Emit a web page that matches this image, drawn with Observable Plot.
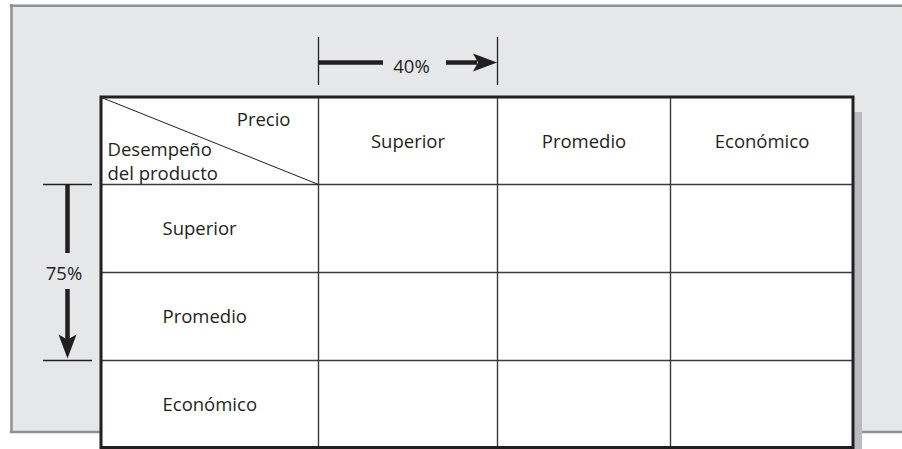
<!DOCTYPE html>
<html><head><meta charset="utf-8">
<script src="https://cdn.jsdelivr.net/npm/d3@7"></script>
<script src="https://cdn.jsdelivr.net/npm/@observablehq/plot@0.6"></script>
<style>html,body{margin:0;padding:0;background:#fff;overflow:hidden} #chart{width:902px;height:449px;overflow:hidden} #chart svg{display:block;max-width:none}</style>
</head><body><div id="chart"></div>
<script>
// ---- content ----
const priceLevels = ["Superior", "Promedio", "Económico"];          // columns (Precio)
const performanceLevels = ["Superior", "Promedio", "Económico"];    // rows (Desempeño del producto)
const priceHeader = "Precio";
const performanceHeader = ["Desempeño", "del producto"];
const priceShareLabel = "40%";
const performanceShareLabel = "75%";

// ---- layout (pixels) ----
const W = 902, H = 449;
const colEdges = [101, 318, 497, 670, 853];
const rowEdges = [97, 184, 272, 360, 447.5];
const ink = "#231f20";
const font = "Open Sans";
const fs = 18.5;
const mid = (a, b) => (a + b) / 2;

const panel = [{x1: 11, x2: W, y1: 5.3, y2: 431.5}];
const panelV = [{x: 11, y1: 4, y2: 432.75}];
const panelH = [{y: 5.3, x1: 9.75, x2: W}, {y: 431.5, x1: 9.75, x2: W}];
const shadow = [{x1: 853, x2: 862, y1: 112, y2: H}];
const table = [{x1: colEdges[0], x2: colEdges[4], y1: rowEdges[0], y2: rowEdges[4]}];
const vLines = colEdges.slice(1, -1).map(x => ({x, y1: rowEdges[0], y2: rowEdges[4]}));
const hLines = rowEdges.slice(1, -1).map(y => ({y, x1: colEdges[0], x2: colEdges[4]}));
const diagonal = [{x1: colEdges[0], y1: rowEdges[0], x2: colEdges[1], y2: rowEdges[1]}];

// dimension marker for 40% (spans first price column)
const topY = 62;
const topTicks = [colEdges[1], colEdges[2]].map(x => ({x, y1: 37, y2: 85}));
const topBars = [{x1: colEdges[1], x2: 383, y: topY}, {x1: 446, x2: colEdges[2] - 20, y: topY}];
// dimension marker for 75% (spans first two performance rows)
const leftX = 67;
const leftTicks = [rowEdges[1], rowEdges[3]].map(y => ({y, x1: 43, x2: 92}));
const leftBars = [{y1: rowEdges[1], y2: 253, x: leftX}, {y1: 289, y2: rowEdges[3] - 20, x: leftX}];
const heads = [
  {x: colEdges[2] - 0.5, y: topY, rotate: 90},
  {x: leftX, y: rowEdges[3] - 2, rotate: 180}
];
// filled arrowhead symbol, tip at origin pointing up
const arrowHead = {
  draw(ctx) {
    ctx.moveTo(0, 0);
    ctx.lineTo(9, 24);
    ctx.lineTo(0, 19);
    ctx.lineTo(-9, 24);
    ctx.closePath();
  }
};

const colHeaderText = priceLevels.map((t, i) => ({t, x: mid(colEdges[i + 1], colEdges[i + 2]), y: 141.2}));
const rowHeaderText = performanceLevels.map((t, i) => ({t, x: 162, y: mid(rowEdges[i + 1], rowEdges[i + 2]) + 1}));
const cornerRight = [{t: priceHeader, x: 290, y: 119.2}];
const cornerLeft = [
  {t: performanceHeader[0], x: 107, y: 149.8},
  {t: performanceHeader[1], x: 107, y: 174}
];
const shareText = [
  {t: priceShareLabel, x: 411, y: 66.2},
  {t: performanceShareLabel, x: 63.5, y: 273.2}
];

const txt = {fontFamily: font, fontSize: fs, fill: ink, stroke: null};

const chart = Plot.plot({
  width: W, height: H,
  margin: 0,
  x: {type: "linear", domain: [0, W], range: [0, W], axis: null},
  y: {type: "linear", domain: [0, H], range: [0, H], axis: null},
  style: {background: "#ffffff"},
  marks: [
    Plot.rect(panel, {x1: "x1", x2: "x2", y1: "y1", y2: "y2", fill: "#e6e7e8"}),
    Plot.ruleX(panelV, {x: "x", y1: "y1", y2: "y2", stroke: "#8f9194", strokeWidth: 2.5}),
    Plot.ruleY(panelH, {y: "y", x1: "x1", x2: "x2", stroke: "#8f9194", strokeWidth: 2.5}),
    Plot.rect(shadow, {x1: "x1", x2: "x2", y1: "y1", y2: "y2", fill: "#b9bbbe"}),
    Plot.rect(table, {x1: "x1", x2: "x2", y1: "y1", y2: "y2", fill: "#ffffff"}),
    Plot.ruleX(vLines, {x: "x", y1: "y1", y2: "y2", stroke: "#3a3a3a", strokeWidth: 1.4}),
    Plot.ruleY(hLines, {y: "y", x1: "x1", x2: "x2", stroke: "#3a3a3a", strokeWidth: 1.4}),
    Plot.link(diagonal, {x1: "x1", y1: "y1", x2: "x2", y2: "y2", stroke: ink, strokeWidth: 1}),
    Plot.rect(table, {x1: "x1", x2: "x2", y1: "y1", y2: "y2", fill: "none", stroke: ink, strokeWidth: 3}),
    // 40% marker
    Plot.ruleX(topTicks, {x: "x", y1: "y1", y2: "y2", stroke: ink, strokeWidth: 1.3}),
    Plot.ruleY(topBars, {y: "y", x1: "x1", x2: "x2", stroke: ink, strokeWidth: 4.5}),
    // 75% marker
    Plot.ruleY(leftTicks, {y: "y", x1: "x1", x2: "x2", stroke: ink, strokeWidth: 1.3}),
    Plot.ruleX(leftBars, {x: "x", y1: "y1", y2: "y2", stroke: ink, strokeWidth: 4.5}),
    Plot.dot(heads, {x: "x", y: "y", rotate: "rotate", symbol: arrowHead, fill: ink, stroke: null, r: 10}),
    // texts
    Plot.text(colHeaderText, {x: "x", y: "y", text: "t", textAnchor: "middle", ...txt}),
    Plot.text(rowHeaderText, {x: "x", y: "y", text: "t", textAnchor: "start", ...txt}),
    Plot.text(cornerRight, {x: "x", y: "y", text: "t", textAnchor: "end", ...txt}),
    Plot.text(cornerLeft, {x: "x", y: "y", text: "t", textAnchor: "start", ...txt}),
    Plot.text(shareText, {x: "x", y: "y", text: "t", textAnchor: "middle", ...txt})
  ]
});
document.getElementById("chart").appendChild(chart);
</script>
</body></html>
